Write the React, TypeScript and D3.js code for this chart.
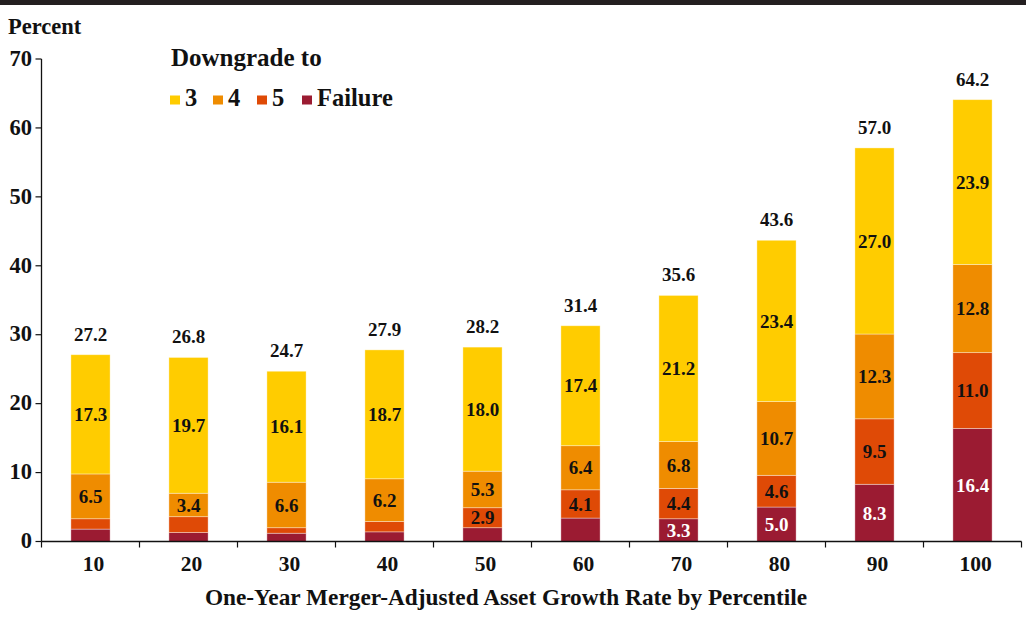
import React from "react";
import * as d3 from "d3";

const categories = ["10", "20", "30", "40", "50", "60", "70", "80", "90", "100"];
const failure = [1.8, 1.3, 1.2, 1.4, 2.0, 3.4, 3.3, 5.0, 8.3, 16.4];
const grade5 = [1.5, 2.3, 0.8, 1.5, 2.9, 4.1, 4.4, 4.6, 9.5, 11.0];
const grade4 = [6.5, 3.4, 6.6, 6.2, 5.3, 6.4, 6.8, 10.7, 12.3, 12.8];
const grade3 = [17.3, 19.7, 16.1, 18.7, 18.0, 17.4, 21.2, 23.4, 27.0, 23.9];
const totals = [27.2, 26.8, 24.7, 27.9, 28.2, 31.4, 35.6, 43.6, 57.0, 64.2];
const failureLabeled = [false, false, false, false, false, false, true, true, true, true];
const grade5Labeled = [false, false, false, false, true, true, true, true, true, true];
const yTicks = [0, 10, 20, 30, 40, 50, 60, 70];

const seriesKeys = ["failure", "g5", "g4", "g3"];
const seriesColors: Record<string, string> = {
  failure: "#9B1B32",
  g5: "#DF4A06",
  g4: "#EF8C00",
  g3: "#FFCC00",
};
const seriesTextColors: Record<string, string> = {
  failure: "#ffffff",
  g5: "#111111",
  g4: "#111111",
  g3: "#111111",
};
const legendItems = [
  { key: "g3", label: "3" },
  { key: "g4", label: "4" },
  { key: "g5", label: "5" },
  { key: "failure", label: "Failure" },
];

const FONT = "'Liberation Serif', 'DejaVu Serif', serif";

export default function App() {
  const W = 1026;
  const H = 641;
  const x = d3.scaleBand<string>().domain(categories).range([41.5, 1021.5]).paddingInner(0).paddingOuter(0);
  const y = d3.scaleLinear().domain([0, 70]).range([541.5, 59]);
  const barW = x.bandwidth() * 0.4;

  const rows = categories.map((c, i) => ({
    cat: c,
    failure: failure[i],
    g5: grade5[i],
    g4: grade4[i],
    g3: grade3[i],
  }));
  const stack = d3.stack<any>().keys(seriesKeys);
  const stacked = stack(rows);

  const labeled = (key: string, i: number) => {
    if (key === "failure") return failureLabeled[i];
    if (key === "g5") return grade5Labeled[i];
    return true;
  };

  const legendX = [170, 213, 257, 302];

  return (
    <svg width={W} height={H} style={{ position: "absolute", left: 0, top: 0, display: "block", background: "#fff" }} fontFamily={FONT}>
      <rect x={0} y={0} width={W} height={5} fill="#231f20" />
      <text x={8} y={34} fontSize={22.5} fontWeight="bold" fill="#111">Percent</text>

      {/* y axis */}
      <line x1={41.5} x2={41.5} y1={y(70)} y2={y(0)} stroke="#111" strokeWidth={1.3} />
      {yTicks.map((t) => (
        <g key={t}>
          <line x1={35.5} x2={41.5} y1={y(t)} y2={y(t)} stroke="#111" strokeWidth={1.2} />
          <text x={32} y={y(t)} dy="0.3em" textAnchor="end" fontSize={22.5} fontWeight="bold" fill="#111">{t}</text>
        </g>
      ))}

      {/* bars */}
      {stacked.map((s) => (
        <g key={s.key}>
          {s.map((d, i) => {
            const x0 = (x(categories[i]) as number) + (x.bandwidth() - barW) / 2;
            const yTop = y(d[1]);
            const yBot = y(d[0]);
            return (
              <g key={i}>
                <rect x={x0} y={yTop} width={barW} height={yBot - yTop} fill={seriesColors[s.key]} stroke="#ffffff" strokeOpacity={0.45} strokeWidth={0.8} />
                {labeled(s.key, i) && (
                  <text x={x0 + barW / 2} y={(yTop + yBot) / 2} dy="0.35em" textAnchor="middle" fontSize={19} fontWeight="bold" fill={seriesTextColors[s.key]}>
                    {(d[1] - d[0]).toFixed(1)}
                  </text>
                )}
              </g>
            );
          })}
        </g>
      ))}

      {/* totals */}
      {categories.map((c, i) => {
        const top = stacked[stacked.length - 1][i][1];
        return (
          <text key={c} x={(x(c) as number) + x.bandwidth() / 2} y={y(top) - 14} textAnchor="middle" fontSize={19} fontWeight="bold" fill="#111">
            {totals[i].toFixed(1)}
          </text>
        );
      })}

      {/* x axis */}
      <line x1={41.5} x2={1021.5} y1={y(0)} y2={y(0)} stroke="#111" strokeWidth={1.5} />
      {categories.map((c) => (
        <line key={"t" + c} x1={x(c) as number} x2={x(c) as number} y1={y(0)} y2={y(0) + 6} stroke="#111" strokeWidth={1.2} />
      ))}
      <line x1={1021.5} x2={1021.5} y1={y(0)} y2={y(0) + 6} stroke="#111" strokeWidth={1.2} />
      {categories.map((c) => (
        <text key={"l" + c} x={(x(c) as number) + x.bandwidth() / 2 + 3} y={571} textAnchor="middle" fontSize={21.5} fontWeight="bold" fill="#111">{c}</text>
      ))}
      <text x={506} y={605} textAnchor="middle" fontSize={23.3} fontWeight="bold" fill="#111">One-Year Merger-Adjusted Asset Growth Rate by Percentile</text>

      {/* legend */}
      <text x={171} y={66} fontSize={25} fontWeight="bold" fill="#111">Downgrade to</text>
      {legendItems.map((it, i) => (
        <g key={it.key}>
          <rect x={legendX[i]} y={95.5} width={10} height={9} fill={seriesColors[it.key]} />
          <text x={legendX[i] + 15} y={106} fontSize={24.5} fontWeight="bold" fill="#111">{it.label}</text>
        </g>
      ))}
    </svg>
  );
}
